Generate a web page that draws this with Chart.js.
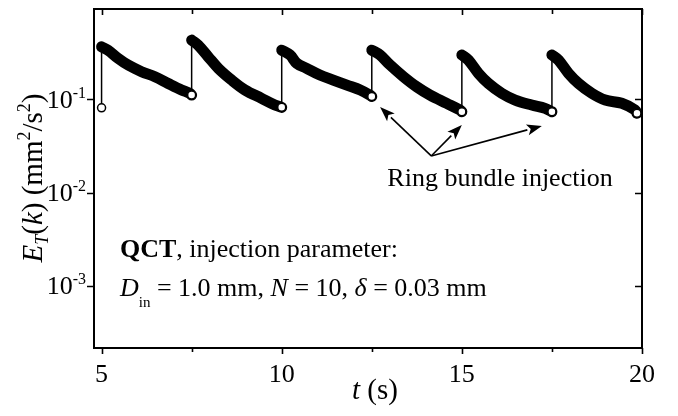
<!DOCTYPE html>
<html>
<head>
<meta charset="utf-8">
<script src="https://cdn.jsdelivr.net/npm/chart.js@4.4.0/dist/chart.umd.min.js"></script>
<style>
    html, body { margin: 0; padding: 0; background: #fff; }
    #chart-root { width: 678px; height: 416px; }
</style>
</head>
<body>
<div id="chart-root"><canvas id="graf-canvas" width="678" height="416"></canvas></div>
<script>
// instantes de injeção (s) e E_T logo antes de cada uma (bolinhas abertas)
const injecaoT = [5, 7.5, 10, 12.5, 15, 17.5, 19.86];
const injecaoE = [0.081, 0.111, 0.082, 0.107, 0.0736, 0.0736, 0.0709];

// decaimento de E_T entre uma injeção e a próxima
const decaiT = [
    [5.00, 5.18, 5.46, 5.74, 6.11, 6.48, 6.85, 7.22, 7.45, 7.5],
    [7.5, 7.68, 7.96, 8.24, 8.61, 8.98, 9.44, 9.81, 10.0],
    [10.0, 10.23, 10.42, 10.69, 11.06, 11.43, 11.81, 12.18, 12.45, 12.5],
    [12.5, 12.73, 13.01, 13.38, 13.75, 14.12, 14.58, 14.95, 15.0],
    [15.0, 15.18, 15.46, 15.74, 16.11, 16.48, 16.94, 17.31, 17.5],
    [17.5, 17.68, 17.96, 18.24, 18.61, 18.98, 19.44, 19.81, 19.86]
];
const decaiE = [
    [0.366, 0.337, 0.275, 0.233, 0.198, 0.175, 0.148, 0.126, 0.116, 0.111],
    [0.432, 0.382, 0.286, 0.215, 0.161, 0.126, 0.1025, 0.0869, 0.082],
    [0.337, 0.299, 0.243, 0.215, 0.182, 0.161, 0.142, 0.126, 0.111, 0.107],
    [0.337, 0.299, 0.233, 0.175, 0.136, 0.111, 0.0906, 0.0768, 0.0736],
    [0.299, 0.264, 0.190, 0.148, 0.116, 0.0983, 0.0869, 0.080, 0.0736],
    [0.299, 0.264, 0.190, 0.148, 0.116, 0.0983, 0.0906, 0.0768, 0.0709]
];

// eixos
const xTicks = [5, 10, 15, 20];
const xMinor = [7.5, 12.5, 17.5];
const yTicks = [1e-1, 1e-2, 1e-3];
const yTickExp = ['-1', '-2', '-3'];

// setas "Ring bundle injection": origem e pontas (t, E)
const setaOrigem = [14.15, 0.0247];
const setaPontas = [[12.73, 0.0827], [15.0, 0.0531], [17.22, 0.0518]];

const SERIF = '"Liberation Serif", "Times New Roman", serif';

(function () {
    function fnt(size, estilo) {
        return (estilo || '') + ' ' + size + 'px ' + SERIF;
    }

    // escreve pedaços de texto com fontes diferentes lado a lado
    // partes: [texto, fonte, deslocamentoY]
    function larguraRica(ctx, partes) {
        let w = 0;
        for (const p of partes) {
            ctx.font = p[1];
            w += ctx.measureText(p[0]).width;
        }
        return w;
    }
    function textoRico(ctx, partes, x, y) {
        let cx = x;
        ctx.textAlign = 'left';
        ctx.textBaseline = 'alphabetic';
        for (const p of partes) {
            ctx.font = p[1];
            ctx.fillText(p[0], cx, y + (p[2] || 0));
            cx += ctx.measureText(p[0]).width;
        }
        return cx;
    }

    function seta(ctx, x0, y0, x1, y1) {
        const ang = Math.atan2(y1 - y0, x1 - x0);
        const L = 15, H = 5.5;
        const bx = x1 - L * Math.cos(ang), by = y1 - L * Math.sin(ang);
        ctx.beginPath();
        ctx.moveTo(x0, y0);
        ctx.lineTo(bx, by);
        ctx.stroke();
        ctx.beginPath();
        ctx.moveTo(x1, y1);
        ctx.lineTo(bx + H * Math.sin(ang), by - H * Math.cos(ang));
        ctx.lineTo(bx + 3.5 * Math.cos(ang), by + 3.5 * Math.sin(ang));
        ctx.lineTo(bx - H * Math.sin(ang), by + H * Math.cos(ang));
        ctx.closePath();
        ctx.fill();
    }

    // moldura, ticks, rótulos e anotações desenhados por cima
    const molduraPlugin = {
        id: 'moldura',
        afterDraw(chart) {
            const ctx = chart.ctx;
            const a = chart.chartArea;
            const xs = chart.scales.x, ys = chart.scales.y;
            ctx.save();
            ctx.fillStyle = '#000';
            ctx.strokeStyle = '#000';

            // ticks
            ctx.lineWidth = 1.6;
            ctx.beginPath();
            for (const t of xTicks) {
                const px = Math.round(xs.getPixelForValue(t)) + 0.5;
                ctx.moveTo(px, a.bottom); ctx.lineTo(px, a.bottom + 6);
                ctx.moveTo(px, a.top); ctx.lineTo(px, a.top + 6);
            }
            for (const t of xMinor) {
                const px = Math.round(xs.getPixelForValue(t)) + 0.5;
                ctx.moveTo(px, a.bottom); ctx.lineTo(px, a.bottom + 4);
                ctx.moveTo(px, a.top); ctx.lineTo(px, a.top + 5);
            }
            for (const v of yTicks) {
                const py = Math.round(ys.getPixelForValue(v)) + 0.5;
                ctx.moveTo(a.left, py); ctx.lineTo(a.left - 7, py);
                ctx.moveTo(a.right, py); ctx.lineTo(a.right - 7, py);
            }
            ctx.stroke();

            // moldura
            ctx.lineWidth = 2;
            ctx.strokeRect(a.left, a.top, a.right - a.left, a.bottom - a.top);

            // rótulos do eixo x
            ctx.font = fnt(26);
            ctx.textAlign = 'center';
            ctx.textBaseline = 'alphabetic';
            for (const t of xTicks) {
                ctx.fillText(String(t), xs.getPixelForValue(t), 382);
            }

            // rótulos do eixo y: 10 com expoente
            yTicks.forEach((v, i) => {
                const py = ys.getPixelForValue(v);
                const partes = [['10', fnt(26), 0], [yTickExp[i], fnt(16), -10]];
                const w = larguraRica(ctx, partes);
                textoRico(ctx, partes, 86 - w, py + 8.5);
            });

            // título x
            const tx = [['t', fnt(29, 'italic'), 0], [' (s)', fnt(29), 0]];
            textoRico(ctx, tx, 375 - larguraRica(ctx, tx) / 2, 399);

            // título y (girado)
            const ty = [
                ['E', fnt(29, 'italic'), 0],
                ['T', fnt(18, 'italic'), 6],
                ['(', fnt(29), 0],
                ['k', fnt(29, 'italic'), 0],
                [') (mm', fnt(29), 0],
                ['2', fnt(18), -12],
                ['/s', fnt(29), 0],
                ['2', fnt(18), -12],
                [')', fnt(29), 0]
            ];
            ctx.save();
            ctx.translate(42, 178);
            ctx.rotate(-Math.PI / 2);
            textoRico(ctx, ty, -larguraRica(ctx, ty) / 2, 0);
            ctx.restore();

            // anotação dos parâmetros
            textoRico(ctx, [
                ['QCT', fnt(26, 'bold'), 0],
                [', injection parameter:', fnt(26), 0]
            ], 120, 257);
            textoRico(ctx, [
                ['D', fnt(26, 'italic'), 0],
                ['in', fnt(15), 11],
                [' = 1.0 mm, ', fnt(26), 0],
                ['N', fnt(26, 'italic'), 0],
                [' = 10, ', fnt(26), 0],
                ['\u03B4', fnt(26, 'italic'), 0],
                [' = 0.03 mm', fnt(26), 0]
            ], 120, 296);

            // Ring bundle injection + setas
            ctx.font = fnt(26);
            ctx.textAlign = 'center';
            ctx.fillText('Ring bundle injection', 500, 186);

            ctx.lineWidth = 1.6;
            const ox = xs.getPixelForValue(setaOrigem[0]);
            const oy = ys.getPixelForValue(setaOrigem[1]);
            for (const p of setaPontas) {
                seta(ctx, ox, oy, xs.getPixelForValue(p[0]), ys.getPixelForValue(p[1]));
            }
            ctx.restore();
        }
    };

    // monta os datasets: curvas grossas, linhas de injeção e bolinhas
    const datasets = [];
    datasets.push({
        data: injecaoT.map((t, i) => ({ x: t, y: injecaoE[i] })),
        showLine: false,
        pointRadius: 4,
        pointBackgroundColor: '#fff',
        pointBorderColor: '#000',
        pointBorderWidth: 1.5,
        clip: false,
        order: 0
    });
    for (let i = 0; i < decaiT.length; i++) {
        datasets.push({
            data: [{ x: injecaoT[i], y: injecaoE[i] }, { x: injecaoT[i], y: decaiE[i][0] }],
            borderColor: '#000',
            borderWidth: 1.5,
            pointRadius: 0,
            order: 1
        });
        datasets.push({
            data: decaiT[i].map((t, j) => ({ x: t, y: decaiE[i][j] })),
            borderColor: '#000',
            borderWidth: 11,
            borderCapStyle: 'round',
            borderJoinStyle: 'round',
            tension: 0.35,
            pointRadius: 0,
            order: 2
        });
    }

    const zeraTamanho = (s) => { if (s.isHorizontal()) s.height = 0; else s.width = 0; };

    new Chart(document.getElementById('graf-canvas').getContext('2d'), {
        type: 'line',
        data: { datasets },
        options: {
            responsive: false,
            animation: false,
            layout: { padding: { left: 94, right: 36, top: 9, bottom: 68 } },
            plugins: { legend: { display: false }, tooltip: { enabled: false } },
            scales: {
                x: {
                    type: 'linear', min: 4.79, max: 20,
                    grid: { display: false }, border: { display: false },
                    ticks: { display: false },
                    afterFit: zeraTamanho
                },
                y: {
                    type: 'logarithmic', min: 2.15e-4, max: 0.931,
                    grid: { display: false }, border: { display: false },
                    ticks: { display: false },
                    afterFit: zeraTamanho
                }
            }
        },
        plugins: [molduraPlugin]
    });
})();
</script>
</body>
</html>
